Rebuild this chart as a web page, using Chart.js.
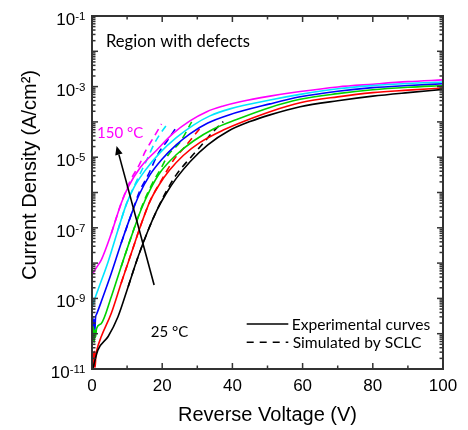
<!DOCTYPE html>
<html><head><meta charset="utf-8">
<script src="https://cdn.jsdelivr.net/npm/chart.js@4"></script>
<style>html,body{margin:0;padding:0;background:#fff;}canvas{display:block;}</style>
</head><body>
<canvas id="c" width="468" height="430"></canvas>
<script>
// ---------- data (V, J in A/cm^2) ----------
const temperatures = ['25 °C','50 °C','75 °C','100 °C','125 °C','150 °C'];
const seriesColors = ['#000000','#ff0000','#00d200','#0000ff','#00e5ff','#ff00ff'];
const xTickValues = [0,20,40,60,80,100];
const yLabelExponents = [-1,-3,-5,-7,-9,-11];

const exp25 = [[0.3,1.07e-11],[0.6,1.41e-11],[1.7,3.47e-11],[4.6,8.32e-11],[7.4,3.02e-10],[10.3,2.14e-9],[13.1,1.48e-8],[16,8.51e-8],[18.5,3.16e-7],[21,8.91e-7],[24,2.51e-6],[28,7.59e-6],[33,2.24e-5],[39,5.62e-5],[45,1.02e-4],[50.7,1.58e-4],[59.3,2.69e-4],[70,3.98e-4],[80,5.37e-4],[90,6.76e-4],[100,8.32e-4]];
const exp50 = [[0.4,3.16e-11],[0.5,1.07e-11],[0.7,3.16e-11],[0.9,1.12e-11],[1.1,2.51e-11],[1.4,3.55e-11],[2.65,8.32e-11],[5.5,3.80e-10],[8.3,2.69e-9],[11.2,1.91e-8],[14,1.26e-7],[16.5,5.62e-7],[19,1.58e-6],[22,4.17e-6],[26,1.12e-5],[30.8,2.63e-5],[37.4,5.89e-5],[44.1,1.12e-4],[50.7,1.95e-4],[59.3,3.47e-4],[70,5.13e-4],[80,6.76e-4],[90,7.94e-4],[100,9.12e-4]];
const exp75 = [[0.2,6.31e-11],[0.4,1.58e-10],[0.6,5.62e-11],[0.8,1.26e-10],[1.0,7.94e-11],[1.3,1.41e-10],[2.65,1.95e-10],[5.5,1.12e-9],[8.3,7.94e-9],[11.2,5.62e-8],[14,3.31e-7],[16.5,1.17e-6],[19.5,3.80e-6],[24,1.17e-5],[28.9,2.88e-5],[34.6,6.31e-5],[41.2,1.17e-4],[50.7,2.57e-4],[59.3,4.37e-4],[70,6.31e-4],[80,8.13e-4],[90,9.55e-4],[100,1.07e-3]];
const exp100 = [[0.2,3.16e-10],[0.4,1.26e-10],[0.6,2.51e-10],[0.8,1.12e-10],[1.0,2.82e-10],[1.3,3.55e-10],[2.65,8.13e-10],[5.5,5.13e-9],[8.3,3.63e-8],[11.2,2.40e-7],[13.5,8.91e-7],[16.5,3.16e-6],[20,8.91e-6],[24,2.24e-5],[28,4.68e-5],[33,9.33e-5],[39,1.58e-4],[50.7,3.24e-4],[59.3,5.13e-4],[70,7.41e-4],[80,9.33e-4],[90,1.07e-3],[100,1.20e-3]];
const exp125 = [[0.2,6.31e-10],[0.5,7.94e-10],[1.7,1.74e-9],[4.6,1.10e-8],[7.4,8.71e-8],[9.8,4.68e-7],[12,1.41e-6],[15.1,4.17e-6],[19.4,1.35e-5],[24.1,3.63e-5],[28.9,8.13e-5],[33.6,1.48e-4],[39.3,2.34e-4],[50.7,4.17e-4],[59.3,6.03e-4],[70,8.71e-4],[80,1.07e-3],[90,1.23e-3],[100,1.35e-3]];
const exp150 = [[0.2,5.01e-9],[1.3,7.59e-9],[2.65,1.23e-8],[5.5,6.92e-8],[8.3,4.90e-7],[10.3,1.41e-6],[13.7,5.01e-6],[18.4,1.58e-5],[23.2,4.79e-5],[27.9,1.07e-4],[32.7,1.95e-4],[37.4,2.82e-4],[42.2,3.72e-4],[50.7,5.37e-4],[59.3,7.24e-4],[70,9.77e-4],[80,1.17e-3],[90,1.38e-3],[100,1.55e-3]];

const sim25 = [[10.3,2.14e-9],[13.1,1.48e-8],[16,8.51e-8],[18.5,3.16e-7],[21,1.00e-6],[24,3.16e-6],[28,9.55e-6],[31.3,2.24e-5],[34.2,4.90e-5],[37.4,1.02e-4]];
const sim50 = [[8.3,2.69e-9],[11.2,1.91e-8],[14,1.26e-7],[16.5,5.62e-7],[19.5,2.00e-6],[23.6,9.33e-6],[26,1.74e-5],[30.8,6.61e-5]];
const sim75 = [[8.3,7.94e-9],[11.2,5.62e-8],[14.6,5.01e-7],[17,1.66e-6],[19.8,5.13e-6],[21.7,1.15e-5],[25.1,2.69e-5],[28.4,1.00e-4]];
const sim100 = [[8.3,3.63e-8],[11.2,2.40e-7],[13.5,1.05e-6],[16,3.16e-6],[18.9,1.29e-5],[21.4,2.88e-5],[24.1,7.24e-5]];
const sim125 = [[7.4,8.71e-8],[9.8,4.68e-7],[12.5,1.91e-6],[15.6,8.32e-6],[18,2.69e-5],[21.7,9.55e-5]];
const sim150 = [[5.5,6.92e-8],[8.3,4.90e-7],[11,2.24e-6],[13.7,6.76e-6],[15.1,1.41e-5],[17.5,3.55e-5],[19.8,8.71e-5]];

const arrowTail = [17.7, 2.40e-9];
const arrowHead = [7.0, 2.09e-5];

const experimental = [exp25, exp50, exp75, exp100, exp125, exp150];
const simulated = [sim25, sim50, sim75, sim100, sim125, sim150];

// ---------- chart ----------
const numFont = 'Liberation Sans, Arial, sans-serif';
const textFont = 'Lato, Calibri, sans-serif';
const axisColor = '#333333';
const toPts = arr => arr.map(([x, y]) => ({x, y}));

const datasets = [];
experimental.forEach((d, i) => datasets.push({
  label: 'Experimental ' + temperatures[i], data: toPts(d),
  borderColor: seriesColors[i], borderWidth: 1.6, showLine: true, pointRadius: 0,
  cubicInterpolationMode: 'monotone'
}));
simulated.forEach((d, i) => datasets.push({
  label: 'SCLC ' + temperatures[i], data: toPts(d),
  borderColor: seriesColors[i], borderWidth: 1.6, borderDash: [7, 5], showLine: true, pointRadius: 0,
  cubicInterpolationMode: 'monotone'
}));

const decor = {
  id: 'decor',
  afterDatasetsDraw(chart) {
    const {ctx, chartArea: a, scales: {x, y}} = chart;
    ctx.save();
    ctx.strokeStyle = axisColor; ctx.lineWidth = 2;
    ctx.strokeRect(a.left, a.top, a.right - a.left, a.bottom - a.top);
    const seg = (x1, y1, x2, y2) => { ctx.beginPath(); ctx.moveTo(x1, y1); ctx.lineTo(x2, y2); ctx.stroke(); };
    ctx.lineWidth = 1.5;
    for (let i = 0; i < xTickValues.length; i++) {
      const v = xTickValues[i];
      const px = x.getPixelForValue(v);
      seg(px, a.bottom, px, a.bottom - 6); seg(px, a.top, px, a.top + 6);
      if (i < xTickValues.length - 1) {
        const mv = (v + xTickValues[i + 1]) / 2, mp = x.getPixelForValue(mv);
        seg(mp, a.bottom, mp, a.bottom - 3.5); seg(mp, a.top, mp, a.top + 3.5);
      }
    }
    for (let e = -11; e <= -1; e++) {
      const base = Math.pow(10, e);
      const py = y.getPixelForValue(base);
      seg(a.left, py, a.left + 6, py); seg(a.right, py, a.right - 6, py);
      if (e < -1) for (let k = 2; k <= 9; k++) {
        const mp = y.getPixelForValue(k * base);
        seg(a.left, mp, a.left + 3.5, mp); seg(a.right, mp, a.right - 3.5, mp);
      }
    }
    ctx.fillStyle = '#000'; ctx.textAlign = 'left'; ctx.textBaseline = 'alphabetic';
    yLabelExponents.forEach(e => {
      const py = y.getPixelForValue(Math.pow(10, e));
      ctx.font = '11.5px ' + numFont;
      const ex = String(e), ew = ctx.measureText(ex).width;
      ctx.font = '17px ' + numFont;
      const bw = ctx.measureText('10').width;
      const right = a.left - 6.5;
      ctx.fillText('10', right - ew - bw, py + 9);
      ctx.font = '11.5px ' + numFont;
      ctx.fillText(ex, right - ew, py + 4);
    });
    ctx.save();
    ctx.translate(30.5, a.top + 159);
    ctx.rotate(-Math.PI / 2);
    ctx.font = '20px ' + numFont; ctx.textAlign = 'center'; ctx.textBaseline = 'middle';
    ctx.fillText('Current Density (A/cm²)', 0, 0);
    ctx.restore();
    ctx.textAlign = 'left'; ctx.textBaseline = 'alphabetic';
    ctx.font = '16.6px ' + textFont; ctx.fillStyle = '#000';
    ctx.fillText('Region with defects', a.left + 14, a.top + 30.5);
    ctx.font = '15px ' + textFont; ctx.fillStyle = '#ff00ff';
    ctx.fillText(temperatures[5], a.left + 5, a.top + 122.3);
    ctx.fillStyle = '#000';
    ctx.fillText(temperatures[0], a.left + 58.7, a.top + 321.3);
    const tx = x.getPixelForValue(arrowTail[0]), ty = y.getPixelForValue(arrowTail[1]);
    const hx = x.getPixelForValue(arrowHead[0]), hy = y.getPixelForValue(arrowHead[1]);
    const ang = Math.atan2(hy - ty, hx - tx), L = 9, W = 3.8;
    const bx = hx - L * Math.cos(ang), by = hy - L * Math.sin(ang);
    ctx.strokeStyle = '#000'; ctx.lineWidth = 1.6;
    seg(tx, ty, bx, by);
    ctx.beginPath();
    ctx.moveTo(hx, hy);
    ctx.lineTo(bx + W * Math.sin(ang), by - W * Math.cos(ang));
    ctx.lineTo(bx - W * Math.sin(ang), by + W * Math.cos(ang));
    ctx.closePath(); ctx.fillStyle = '#000'; ctx.fill();
    ctx.lineWidth = 1.5; ctx.strokeStyle = '#000';
    seg(a.left + 154.7, a.top + 308, a.left + 196.3, a.top + 308);
    ctx.setLineDash([7, 6]);
    seg(a.left + 154.7, a.top + 326.3, a.left + 196.3, a.top + 326.3);
    ctx.setLineDash([]);
    ctx.font = '15.6px ' + textFont; ctx.fillStyle = '#000';
    ctx.fillText('Experimental curves', a.left + 199.7, a.top + 314);
    ctx.fillText('Simulated by SCLC', a.left + 200.7, a.top + 332.3);
    ctx.restore();
  }
};

new Chart(document.getElementById('c'), {
  type: 'scatter',
  data: {datasets},
  options: {
    responsive: false, animation: false, devicePixelRatio: 1,
    layout: {padding: {top: 16, right: 25, left: 0, bottom: 0}},
    plugins: {legend: {display: false}, tooltip: {enabled: false}},
    scales: {
      x: {
        type: 'linear', min: 0, max: 100,
        afterFit(s) { s.height = 61; },
        grid: {display: false, drawTicks: false}, border: {display: false},
        ticks: {stepSize: 20, padding: 7, color: '#000', font: {family: numFont, size: 17}},
        title: {display: true, text: 'Reverse Voltage (V)', color: '#000', font: {family: numFont, size: 20}, padding: {top: 0, bottom: 3}}
      },
      y: {
        type: 'logarithmic', min: 1e-11, max: 1e-1,
        afterFit(s) { s.width = 92; },
        grid: {display: false, drawTicks: false}, border: {display: false},
        ticks: {display: false}
      }
    }
  },
  plugins: [decor]
});
</script>
</body></html>
